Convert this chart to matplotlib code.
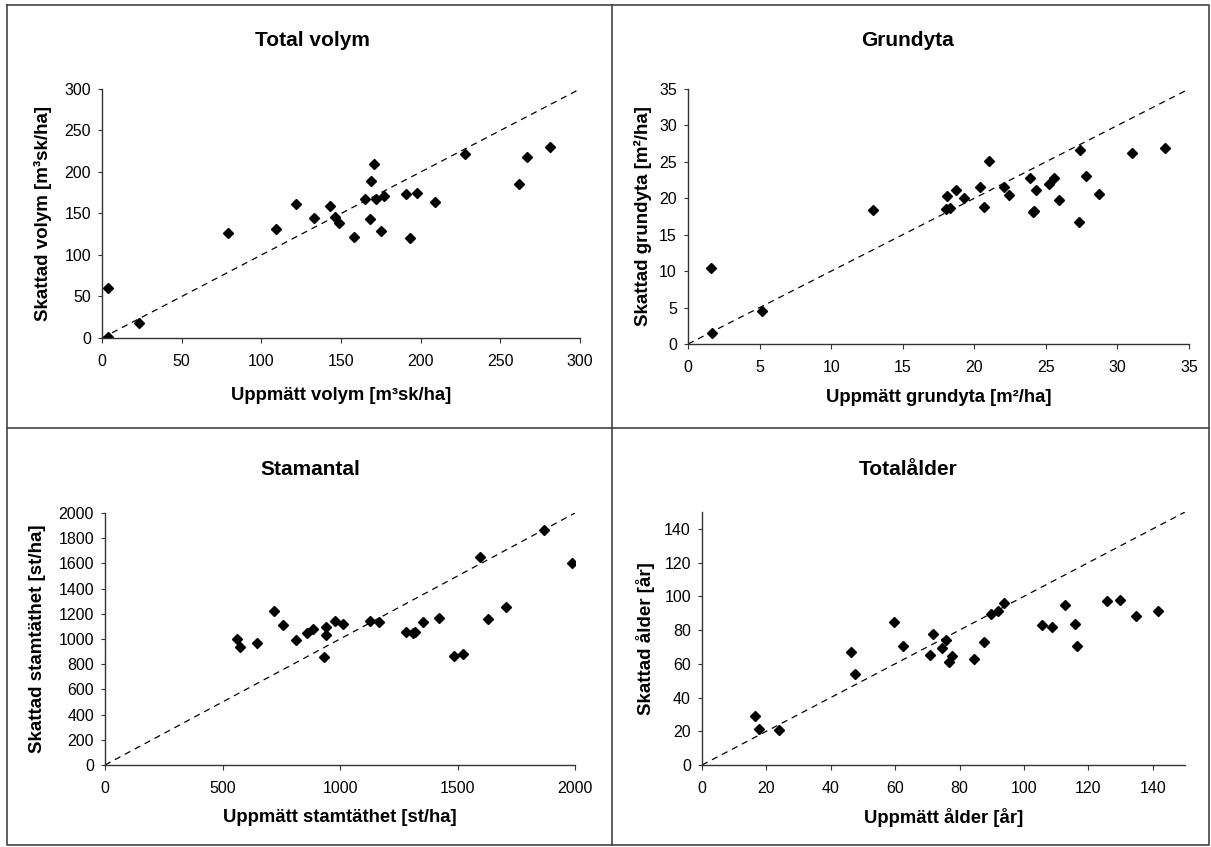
import numpy as np
import matplotlib
matplotlib.use("Agg")
import matplotlib.pyplot as plt
from matplotlib.lines import Line2D

plt.rcParams['font.family'] = ['Liberation Sans', 'DejaVu Sans']

# Total volym [m3sk/ha]
vol_matt = [4, 4, 23, 79, 109, 122, 133, 143, 146, 149, 158, 165, 168, 169, 171,
            172, 175, 177, 191, 193, 198, 209, 228, 262, 267, 281]
vol_skatt = [60, 1, 18, 127, 131, 162, 145, 159, 146, 139, 122, 168, 143, 189, 210,
             167, 129, 171, 173, 120, 175, 164, 222, 185, 218, 230]

# Grundyta [m2/ha]
gy_matt = [1.6, 1.7, 5.2, 12.9, 18.0, 18.3, 18.1, 18.7, 19.3, 20.4, 20.7, 21.0,
           22.1, 22.4, 23.9, 24.1, 24.2, 24.3, 25.2, 25.6, 25.9, 27.3, 27.4,
           27.8, 28.7, 31.0, 33.3]
gy_skatt = [10.5, 1.5, 4.5, 18.4, 18.5, 18.7, 20.3, 21.2, 20.1, 21.5, 18.8, 25.1,
            21.5, 20.5, 22.8, 18.1, 18.3, 21.1, 22.0, 22.8, 19.7, 16.7, 26.6,
            23.1, 20.6, 26.2, 26.9]

# Stamantal [st/ha]
st_matt = [562, 573, 645, 719, 757, 813, 861, 886, 939, 939, 933, 980, 1013, 1126,
           1168, 1281, 1309, 1319, 1354, 1423, 1484, 1523, 1596, 1631, 1705,
           1869, 1989]
st_skatt = [999, 937, 969, 1223, 1115, 996, 1049, 1078, 1096, 1028, 861, 1144,
            1118, 1139, 1136, 1054, 1049, 1052, 1136, 1168, 866, 882, 1654, 1160,
            1255, 1863, 1603]

# Totalålder [år]
al_matt = [16.6, 17.8, 24, 46.4, 47.4, 59.5, 62.5, 70.7, 71.6, 74.5, 75.7, 76.6,
           77.5, 84.5, 87.7, 89.6, 91.8, 93.8, 105.7, 108.7, 112.7, 115.7, 116.6,
           125.9, 129.8, 134.9, 141.7]
al_skatt = [29.1, 21.6, 20.8, 66.7, 53.7, 84.5, 70.7, 65.5, 77.4, 69.1, 74.1, 61.0,
            64.9, 62.6, 72.9, 89.7, 91.5, 96.2, 83.0, 81.8, 94.8, 83.6, 70.5,
            97.2, 97.8, 88.1, 91.1]

W, H = 1211, 847
fig = plt.figure(figsize=(W / 100, H / 100), dpi=100)


def pax(l, t, r, b):
    # axes from pixel box
    return fig.add_axes([l / W, 1 - b / H, (r - l) / W, (b - t) / H])


panels = [
    dict(box=(102, 89, 580, 338), x=vol_matt, y=vol_skatt, lim=300, step=50,
         title="Total volym", tpos=(312, 40),
         xl="Uppmätt volym [m³sk/ha]", yl="Skattad volym [m³sk/ha]",
         xlc=-0.229, ylc=-0.123),
    dict(box=(688, 89, 1189, 344), x=gy_matt, y=gy_skatt, lim=35, step=5,
         title="Grundyta", tpos=(908, 40),
         xl="Uppmätt grundyta [m²/ha]", yl="Skattad grundyta [m²/ha]",
         xlc=-0.208, ylc=-0.09),
    dict(box=(105, 513, 575, 765), x=st_matt, y=st_skatt, lim=2000, step=500,
         ystep=200, title="Stamantal", tpos=(310, 469),
         xl="Uppmätt stamtäthet [st/ha]", yl="Skattad stamtäthet [st/ha]",
         xlc=-0.21, ylc=-0.143),
    dict(box=(702, 512, 1185, 765), x=al_matt, y=al_skatt, lim=150, step=20,
         ystep=20, title="Totalålder", tpos=(908, 469),
         xl="Uppmätt ålder [år]", yl="Skattad ålder [år]",
         xlc=-0.209, ylc=-0.117),
]

for p in panels:
    ax = pax(*p['box'])
    lim = p['lim']
    ax.plot([0, lim], [0, lim], color='black', lw=0.9, ls=(0, (5, 4)))
    ax.plot(p['x'], p['y'], 'D', color='black', ms=4.6, mec='black')
    ax.set_xlim(0, lim)
    ax.set_ylim(0, lim)
    ax.set_xticks(np.arange(0, lim + 0.1, p['step']))
    ax.set_yticks(np.arange(0, lim - 0.1 if lim == 150 else lim + 0.1, p.get('ystep', p['step'])))
    for s in ['top', 'right']:
        ax.spines[s].set_visible(False)
    for s in ['left', 'bottom']:
        ax.spines[s].set_color('#333333')
        ax.spines[s].set_linewidth(1.0)
    ax.tick_params(axis='x', direction='out', length=3.5, width=0.8, pad=8,
                   labelsize=11.5, color='#333333')
    ax.tick_params(axis='y', direction='out', length=3, width=0.8, pad=5,
                   labelsize=11.5, color='#333333')
    ax.set_xlabel(p['xl'], fontsize=13.3, fontweight='bold', va='center')
    ax.set_ylabel(p['yl'], fontsize=13.5, fontweight='bold', va='center')
    ax.xaxis.set_label_coords(0.5, p['xlc'])
    ax.yaxis.set_label_coords(p['ylc'], 0.5)
    fig.text(p['tpos'][0] / W, 1 - p['tpos'][1] / H, p['title'], fontsize=15,
             fontweight='bold', ha='center', va='center')

# frame and dividers
lc = '#444444'
fig.add_artist(Line2D([7 / W, 1209 / W, 1209 / W, 7 / W, 7 / W],
                      [1 - 5 / H, 1 - 5 / H, 1 - 845 / H, 1 - 845 / H, 1 - 5 / H],
                      color=lc, lw=1.2))
fig.add_artist(Line2D([612 / W, 612 / W], [1 - 5 / H, 1 - 845 / H], color=lc, lw=1.2))
fig.add_artist(Line2D([7 / W, 1209 / W], [1 - 428 / H, 1 - 428 / H], color=lc, lw=1.2))

fig.savefig("out.png", dpi=100)
